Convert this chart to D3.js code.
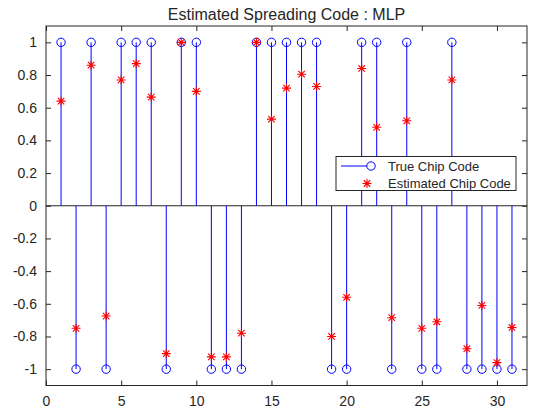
<!DOCTYPE html>
<html>
  <head>
    <title>Estimated Spreading Code</title>
    <style>
      body { margin: 0; background: #fff; }
      svg { font-family: "Liberation Sans", Arial, sans-serif; }
      .axis text { fill: #262626; font-size: 14px; }
      .axis line { stroke: #262626; }
      .axis path { display: none; }
    </style>
    <script src="https://d3js.org/d3.v7.min.js"></script>
  </head>
  <body>
    <div id="chart"></div>
    <script>
// chip index
var chips = d3.range(1, 32);
// true chip code (+1 / -1)
var trueCode = [1, -1, 1, -1, 1, 1, 1, -1, 1, 1, -1, -1, -1, 1, 1, 1, 1, 1, -1, -1, 1, 1, -1, 1, -1, -1, 1, -1, -1, -1, -1];
// estimated chip code
var estCode = [0.64, -0.75, 0.86, -0.675, 0.77, 0.87, 0.665, -0.905, 1.0, 0.70, -0.925, -0.925, -0.78, 1.0, 0.53, 0.72, 0.805, 0.73, -0.80, -0.56, 0.84, 0.48, -0.685, 0.52, -0.75, -0.71, 0.77, -0.875, -0.61, -0.96, -0.745];
var xTicks = [0, 5, 10, 15, 20, 25, 30];
var yTicks = [-1, -0.8, -0.6, -0.4, -0.2, 0, 0.2, 0.4, 0.6, 0.8, 1];
var yTickLabels = ["-1", "-0.8", "-0.6", "-0.4", "-0.2", "0", "0.2", "0.4", "0.6", "0.8", "1"];
var legendNames = ["True Chip Code", "Estimated Chip Code"];

var width = 534, height = 409;
var plotLeft = 46, plotRight = 527, plotTop = 26, plotBottom = 385.5;
var axisColor = "#262626";
var stemColor = "#0000ff";
var estColor = "#ff0000";

var x = d3.scaleLinear().domain([0, 32]).range([plotLeft, plotRight]);
var y = d3.scaleLinear().domain([-1.1, 1.1]).range([plotBottom, plotTop]);

var svg = d3.select("#chart").append("svg")
  .attr("width", width)
  .attr("height", height);

// axes with inward ticks (MATLAB style)
svg.append("g").attr("class", "axis")
  .attr("transform", `translate(0, ${plotBottom})`)
  .call(d3.axisBottom(x).tickValues(xTicks).tickSize(-5).tickPadding(10.5).tickFormat(d3.format("d")));
svg.append("g").attr("class", "axis")
  .attr("transform", `translate(0, ${plotTop})`)
  .call(d3.axisTop(x).tickValues(xTicks).tickSize(-5).tickFormat(""));
svg.append("g").attr("class", "axis")
  .attr("transform", `translate(${plotLeft}, 0)`)
  .call(d3.axisLeft(y).tickValues(yTicks).tickSize(-5).tickPadding(9)
    .tickFormat((d, i) => yTickLabels[i]));
svg.append("g").attr("class", "axis")
  .attr("transform", `translate(${plotRight}, 0)`)
  .call(d3.axisRight(y).tickValues(yTicks).tickSize(-5).tickFormat(""));

// stem baseline
svg.append("line")
  .attr("x1", plotLeft).attr("x2", plotRight)
  .attr("y1", y(0)).attr("y2", y(0))
  .attr("stroke", axisColor).attr("stroke-width", 1);

// stems
var data = chips.map((c, i) => ({chip: c, t: trueCode[i], e: estCode[i]}));

svg.append("g").selectAll("line")
  .data(data).enter()
  .append("line")
  .attr("x1", d => x(d.chip)).attr("x2", d => x(d.chip))
  .attr("y1", y(0)).attr("y2", d => y(d.t))
  .attr("stroke", stemColor).attr("stroke-width", 1);

svg.append("g").selectAll("circle")
  .data(data).enter()
  .append("circle")
  .attr("cx", d => x(d.chip)).attr("cy", d => y(d.t))
  .attr("r", 4.2)
  .attr("fill", "none")
  .attr("stroke", stemColor).attr("stroke-width", 1);

// asterisk marker: plus + cross
function asterisk(cx, cy, r) {
  var a = r * 0.72;
  return `M${cx - r},${cy}L${cx + r},${cy}M${cx},${cy - r}L${cx},${cy + r}` +
    `M${cx - a},${cy - a}L${cx + a},${cy + a}M${cx - a},${cy + a}L${cx + a},${cy - a}`;
}

svg.append("g").selectAll("path")
  .data(data).enter()
  .append("path")
  .attr("d", d => asterisk(x(d.chip), y(d.e), 4.5))
  .attr("stroke", estColor).attr("stroke-width", 1.1).attr("fill", "none");

// plot box
svg.append("rect")
  .attr("x", plotLeft).attr("y", plotTop)
  .attr("width", plotRight - plotLeft).attr("height", plotBottom - plotTop)
  .attr("fill", "none")
  .attr("stroke", axisColor).attr("stroke-width", 1);

// title
svg.append("text")
  .attr("x", (plotLeft + plotRight) / 2).attr("y", 20)
  .attr("text-anchor", "middle")
  .attr("fill", axisColor)
  .style("font-size", "16px")
  .text("Estimated Spreading Code : MLP");

// legend
var lg = svg.append("g").attr("transform", "translate(336, 156.5)");
lg.append("rect")
  .attr("width", 180).attr("height", 34)
  .attr("fill", "#fff").attr("stroke", axisColor).attr("stroke-width", 1);
lg.append("line")
  .attr("x1", 5).attr("x2", 34).attr("y1", 9.5).attr("y2", 9.5)
  .attr("stroke", stemColor).attr("stroke-width", 1);
lg.append("circle")
  .attr("cx", 35).attr("cy", 9.5).attr("r", 4.2)
  .attr("fill", "#fff").attr("stroke", stemColor).attr("stroke-width", 1);
lg.append("path")
  .attr("d", asterisk(31, 27, 4.5))
  .attr("stroke", estColor).attr("stroke-width", 1.1).attr("fill", "none");
lg.selectAll("text")
  .data(legendNames).enter()
  .append("text")
  .attr("x", 52)
  .attr("y", (d, i) => 14 + i * 17.5)
  .attr("fill", axisColor)
  .style("font-size", "13px")
  .text(d => d);
    </script>
  </body>
</html>
